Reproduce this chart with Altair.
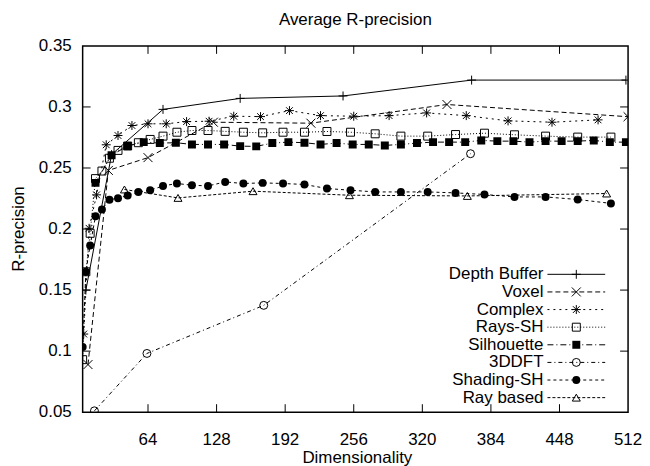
import altair as alt
import pandas as pd

FONT = "Liberation Sans"
FS = 17

# ---- axis ticks ----
x_ticks = [64, 128, 192, 256, 320, 384, 448, 512]
y_ticks = [0.05, 0.1, 0.15, 0.2, 0.25, 0.3, 0.35]
y_tick_labels = ["0.05", "0.1", "0.15", "0.2", "0.25", "0.3", "0.35"]

# ---- series (dimensionality, R-precision) ----
db_x = [6, 30, 78, 150, 246, 366, 510]
db_y = [0.150, 0.261, 0.298, 0.307, 0.309, 0.322, 0.322]

vox_x = [8, 27, 64, 125, 216, 343, 512]
vox_y = [0.089, 0.248, 0.2585, 0.2875, 0.2867, 0.302, 0.292]

cpx_x = [4, 9, 16, 25, 36, 49, 64, 81, 100, 121, 144, 169, 196, 225, 256, 289, 324, 361, 400, 441, 484]
cpx_y = [0.114, 0.2006, 0.228, 0.269, 0.2766, 0.2848, 0.2862, 0.2862, 0.288, 0.2883, 0.2924,
         0.2921, 0.297, 0.2929, 0.2924, 0.2929, 0.2951, 0.2929, 0.2886, 0.2875, 0.2894]

rsh_x = [3, 6, 10, 15, 21, 28, 36, 45, 55, 66, 78, 91, 105, 120, 136, 153, 171, 190, 210, 231,
         253, 276, 300, 325, 351, 378, 406, 435, 465, 496]
rsh_y = [0.093, 0.165, 0.1965, 0.2413, 0.2475, 0.258, 0.2644, 0.268, 0.2707, 0.2734, 0.2761,
         0.2793, 0.2807, 0.2807, 0.280, 0.2793, 0.2788, 0.2793, 0.2793, 0.2799, 0.2793, 0.278,
         0.2761, 0.2761, 0.2774, 0.2785, 0.2772, 0.2761, 0.2753, 0.2753]

sil_x = [15, 30, 45, 60, 75, 90, 105, 120, 135, 150, 165, 180, 195, 210, 225, 240, 255, 270,
         285, 300, 315, 330, 345, 360, 375, 390, 405, 420, 435, 450, 465, 480, 495, 510]
sil_y = [0.2378, 0.2605, 0.268, 0.2712, 0.2704, 0.2707, 0.2693, 0.2693, 0.2693, 0.2679, 0.2677,
         0.2704, 0.2712, 0.2707, 0.2693, 0.2704, 0.2693, 0.2693, 0.2685, 0.2693, 0.2704, 0.2712,
         0.2712, 0.2712, 0.2726, 0.272, 0.272, 0.2712, 0.272, 0.272, 0.272, 0.2726, 0.2712, 0.2712]

dft_x = [14, 63, 172, 365]
dft_y = [0.0511, 0.0981, 0.1375, 0.2617]

ssh_x = [3, 6, 10, 15, 21, 28, 36, 45, 55, 66, 78, 91, 105, 120, 136, 153, 171, 190, 210, 231,
         253, 276, 300, 325, 351, 378, 406, 435, 465, 496]
ssh_y = [0.1033, 0.165, 0.1865, 0.2105, 0.216, 0.224, 0.2252, 0.2275, 0.2304, 0.2318, 0.2353,
         0.2373, 0.2359, 0.2353, 0.2386, 0.2373, 0.2378, 0.2373, 0.2365, 0.2332, 0.2318, 0.2304,
         0.2304, 0.2304, 0.2296, 0.2283, 0.2263, 0.2263, 0.2242, 0.221]

ray_x = [42, 92, 162, 252, 362, 492]
ray_y = [0.2324, 0.2255, 0.231, 0.2277, 0.2271, 0.2291]

PLUS = "M-1,0L1,0M0,-1L0,1"
XMARK = "M-1,-1L1,1M-1,1L1,-1"
STAR = "M-1,0L1,0M0,-1L0,1M-0.75,-0.75L0.75,0.75M-0.75,0.75L0.75,-0.75"

series = [
    ("Depth Buffer", db_x, db_y, None, PLUS, False, 81),
    ("Voxel", vox_x, vox_y, [5, 3], XMARK, False, 81),
    ("Complex", cpx_x, cpx_y, [2, 4], STAR, False, 81),
    ("Rays-SH", rsh_x, rsh_y, [1, 2], "square", False, 64),
    ("Silhouette", sil_x, sil_y, [6, 3, 1, 3], "square", True, 64),
    ("3DDFT", dft_x, dft_y, [4, 3, 1, 3], "circle", False, 64),
    ("Shading-SH", ssh_x, ssh_y, [3, 3], "circle", True, 64),
    ("Ray based", ray_x, ray_y, [3, 2], "triangle-up", False, 64),
]

W, H = 548, 368
xscale = alt.Scale(domain=[3, 512], nice=False, zero=False)
yscale = alt.Scale(domain=[0.05, 0.35], nice=False, zero=False)

layers = []
for name, xs, ys, dash, shape, filled, size in series:
    df = pd.DataFrame({"x": xs, "y": ys})
    base = alt.Chart(df).encode(
        x=alt.X("x:Q", scale=xscale, axis=None),
        y=alt.Y("y:Q", scale=yscale, axis=None),
    )
    line_kw = dict(color="black", strokeWidth=1, clip=True)
    if dash:
        line_kw["strokeDash"] = dash
    layers.append(base.mark_line(**line_kw))
    layers.append(base.mark_point(shape=shape, filled=filled, size=size, color="black",
                                  strokeWidth=1, opacity=1, clip=True))

# inward ticks on all four sides (gnuplot style, mirrored)
ytick_df = pd.DataFrame({"v": y_ticks[1:-1]})
xtick_df = pd.DataFrame({"v": x_ticks[:-1]})
for x0, x1 in [(0, 8), (W - 8, W)]:
    layers.append(alt.Chart(ytick_df).mark_rule(color="black", strokeWidth=1).encode(
        y=alt.Y("v:Q", scale=yscale, axis=None), x=alt.value(x0), x2=alt.value(x1)))
for y0, y1 in [(H, H - 8), (0, 8)]:
    layers.append(alt.Chart(xtick_df).mark_rule(color="black", strokeWidth=1).encode(
        x=alt.X("v:Q", scale=xscale, axis=None), y=alt.value(y0), y2=alt.value(y1)))

# tick labels
xl_df = pd.DataFrame({"v": x_ticks, "lab": [str(v) for v in x_ticks]})
layers.append(alt.Chart(xl_df).mark_text(font=FONT, fontSize=FS, color="black",
                                         align="center", baseline="middle").encode(
    x=alt.X("v:Q", scale=xscale, axis=None), y=alt.value(H + 28), text="lab:N"))
yl_df = pd.DataFrame({"v": y_ticks, "lab": y_tick_labels})
layers.append(alt.Chart(yl_df).mark_text(font=FONT, fontSize=FS, color="black",
                                         align="right", baseline="middle").encode(
    y=alt.Y("v:Q", scale=yscale, axis=None), x=alt.value(-11), text="lab:N"))

# axis titles
layers.append(alt.Chart(pd.DataFrame({"t": ["Dimensionality"]})).mark_text(
    font=FONT, fontSize=FS, color="black", align="center", baseline="middle").encode(
    x=alt.value(W / 2 + 2), y=alt.value(H + 46), text="t:N"))
layers.append(alt.Chart(pd.DataFrame({"t": ["R-precision"]})).mark_text(
    font=FONT, fontSize=FS, color="black", align="center", baseline="middle", angle=270).encode(
    x=alt.value(-64), y=alt.value(H / 2), text="t:N"))

# legend (gnuplot style: label, then line sample with marker)
LY0, LDY = 229.5, 17.7
for i, (name, xs, ys, dash, shape, filled, size) in enumerate(series):
    ly = LY0 + i * LDY
    lb = alt.Chart(pd.DataFrame({"name": [name]}))
    layers.append(lb.mark_text(align="right", baseline="middle", font=FONT, fontSize=FS,
                               color="black").encode(
        x=alt.value(463), y=alt.value(ly), text="name:N"))
    rk = dict(color="black", strokeWidth=1)
    if dash:
        rk["strokeDash"] = dash
    layers.append(lb.mark_rule(**rk).encode(x=alt.value(467), x2=alt.value(525), y=alt.value(ly)))
    layers.append(lb.mark_point(shape=shape, filled=filled, size=size, color="black",
                                strokeWidth=1, opacity=1).encode(
        x=alt.value(496), y=alt.value(ly)))

chart = alt.layer(*layers).properties(
    width=W, height=H,
    background="white",
    title=alt.TitleParams("Average R-precision", font=FONT, fontSize=FS, fontWeight="normal",
                          color="black", anchor="middle", offset=8),
    autosize=alt.AutoSizeParams(type="none"),
    padding={"left": 75, "top": 37, "right": 14, "bottom": 53},
).configure_view(
    stroke="black", strokeWidth=1.5
)

chart.save("out.html", embed_options={"renderer": "svg", "actions": False})
